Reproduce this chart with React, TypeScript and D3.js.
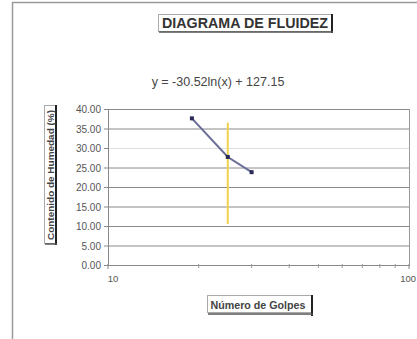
import React from "react";
import * as d3 from "d3";

// Ensayo de límite líquido: número de golpes vs. contenido de humedad
const golpes = [19, 25, 30];
const humedad = [37.6, 27.7, 23.8];

// Línea de referencia en 25 golpes
const golpesRef = 25;
const rangoRef = [10.5, 36.5];

const yTicks = [0, 5, 10, 15, 20, 25, 30, 35, 40];
const xMajor = [10, 100];
const xMinor = [20, 30, 40, 50, 60, 70, 80, 90];

const titulo = "DIAGRAMA DE FLUIDEZ";
const ecuacion = "y = -30.52ln(x) + 127.15";
const tituloY = "Contenido de Humedad (%)";
const tituloX = "Número de Golpes";

const W = 417;
const H = 339;
const font = "'Liberation Sans', Arial, sans-serif";

export default function App() {
  const x = d3.scaleLog().domain([10, 100]).range([108, 409]);
  const y = d3.scaleLinear().domain([0, 40]).range([265, 109]);
  const pts = golpes.map((g, i) => [x(g), y(humedad[i])] as [number, number]);
  const line = d3.line()(pts) as string;

  return (
    <svg
      width={W}
      height={H}
      style={{ position: "absolute", left: 0, top: 0, background: "#fff" }}
    >
      {/* marco exterior */}
      <rect x={12.5} y={2.5} width={W} height={H} fill="none" stroke="#9a9a9a" strokeWidth={1.5} />

      {/* título con sombra */}
      <rect x={158.5} y={14.5} width={173} height={17} fill="none" stroke="#aaa" strokeWidth={1} />
      <line x1={332} y1={14} x2={332} y2={33} stroke="#222" strokeWidth={2} />
      <line x1={159} y1={32} x2={333} y2={32} stroke="#555" strokeWidth={1.5} />
      <text
        x={245}
        y={28}
        textAnchor="middle"
        fontFamily={font}
        fontWeight="bold"
        fontSize={14}
        textLength={166}
        lengthAdjust="spacingAndGlyphs"
        fill="#333"
      >
        {titulo}
      </text>

      {/* ecuación de la tendencia */}
      <text x={218} y={86} textAnchor="middle" fontFamily={font} fontSize={12.5} fill="#444">
        {ecuacion}
      </text>

      {/* rejilla horizontal */}
      {yTicks.map((t) => (
        <g key={t}>
          <line
            x1={108}
            x2={409}
            y1={y(t) + 0.5}
            y2={y(t) + 0.5}
            stroke={t === 30 ? "#ddd" : "#8a8a8a"}
            strokeWidth={1}
          />
          <line x1={104} x2={108} y1={y(t) + 0.5} y2={y(t) + 0.5} stroke="#888" />
          <text
            x={101}
            y={y(t) + 4}
            textAnchor="end"
            fontFamily={font}
            fontSize={10}
            fill="#555"
          >
            {t.toFixed(2)}
          </text>
        </g>
      ))}

      {/* ejes y borde del área de trazado */}
      <line x1={108.5} x2={108.5} y1={109} y2={266} stroke="#888" />
      <line x1={409.5} x2={409.5} y1={109} y2={266} stroke="#999" />

      {/* marcas del eje logarítmico */}
      {xMinor.map((v) => (
        <line key={v} x1={x(v)} x2={x(v)} y1={264} y2={268} stroke="#999" />
      ))}
      {xMajor.map((v, i) => (
        <g key={v}>
          <line x1={x(v)} x2={x(v)} y1={264} y2={269} stroke="#888" />
          <text
            x={i === 0 ? x(v) + 5 : W - 1}
            y={282}
            textAnchor={i === 0 ? "middle" : "end"}
            fontFamily={font}
            fontSize={9.5}
            fill="#555"
          >
            {v}
          </text>
        </g>
      ))}

      {/* línea de referencia */}
      <line
        x1={x(golpesRef)}
        x2={x(golpesRef)}
        y1={y(rangoRef[0])}
        y2={y(rangoRef[1])}
        stroke="#f0d24a"
        strokeWidth={2}
      />

      {/* serie de datos */}
      <path d={line} fill="none" stroke="#6a6e98" strokeWidth={2} />
      {pts.map(([px, py], i) => (
        <rect key={i} x={px - 2} y={py - 2} width={4} height={4} fill="#2a2a5a" />
      ))}

      {/* título eje Y */}
      <rect x={44.5} y={105.5} width={11} height={138} fill="none" stroke="#aaa" />
      <line x1={56} x2={56} y1={105} y2={245} stroke="#222" strokeWidth={2} />
      <line x1={45} x2={57} y1={244} y2={244} stroke="#555" strokeWidth={1.5} />
      <text
        transform={`translate(53.5,${175}) rotate(-90)`}
        textAnchor="middle"
        fontFamily={font}
        fontWeight="bold"
        fontSize={9.5}
        textLength={130}
        lengthAdjust="spacingAndGlyphs"
        fill="#444"
      >
        {tituloY}
      </text>

      {/* título eje X */}
      <rect x={207.5} y={295.5} width={104} height={17} fill="none" stroke="#aaa" />
      <line x1={312} x2={312} y1={295} y2={316} stroke="#222" strokeWidth={2} />
      <line x1={208} x2={313} y1={314} y2={314} stroke="#555" strokeWidth={1.5} />
      <text
        x={258}
        y={308.5}
        textAnchor="middle"
        fontFamily={font}
        fontWeight="bold"
        fontSize={10.5}
        textLength={95}
        lengthAdjust="spacingAndGlyphs"
        fill="#444"
      >
        {tituloX}
      </text>
    </svg>
  );
}
